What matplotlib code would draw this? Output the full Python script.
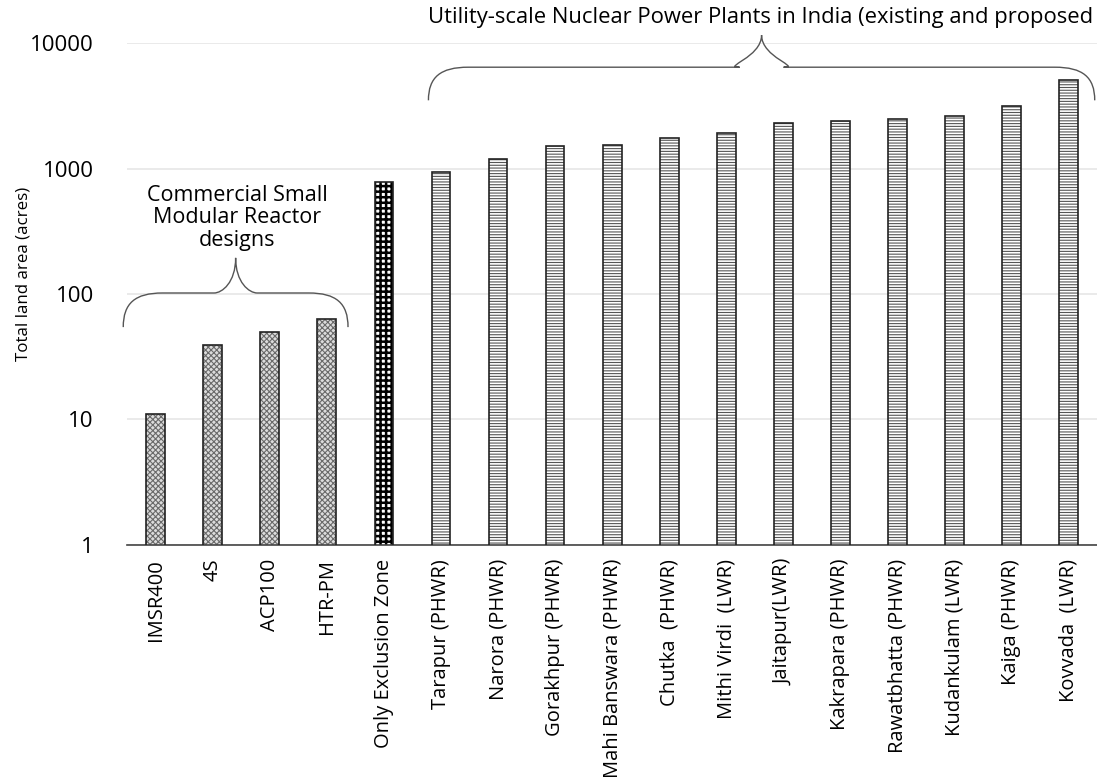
import numpy as np
import matplotlib
matplotlib.use("Agg")
import matplotlib.pyplot as plt
from matplotlib.path import Path
from matplotlib.patches import PathPatch
import matplotlib.transforms as mtransforms

plt.rcParams['font.family'] = ['Open Sans', 'DejaVu Sans']
plt.rcParams['hatch.linewidth'] = 0.8

# data
smr_names = ['IMSR400', '4S', 'ACP100', 'HTR-PM']
smr_area = [11, 39, 50, 63]
excl_name = ['Only Exclusion Zone']
excl_area = [780]
plant_names = ['Tarapur (PHWR)', 'Narora (PHWR)', 'Gorakhpur (PHWR)',
               'Mahi Banswara (PHWR)', 'Chutka  (PHWR)', 'Mithi Virdi  (LWR)',
               'Jaitapur(LWR)', 'Kakrapara (PHWR)', 'Rawatbhatta (PHWR)',
               'Kudankulam (LWR)', 'Kaiga (PHWR)', 'Kovvada  (LWR)']
plant_area = [940, 1190, 1510, 1540, 1750, 1920, 2300, 2380, 2470, 2620, 3150, 5100]

labels = smr_names + excl_name + plant_names
n = len(labels)
x = np.arange(n)
x_smr = x[:4]
x_ex = x[4:5]
x_pl = x[5:]

fig = plt.figure(figsize=(10.97, 7.84), dpi=100)
ax = fig.add_axes([0.116, 0.305, 0.884, 0.64])

w = 0.33
# hatch layers first, black outline drawn on top
ax.bar(x_smr, smr_area, w, color='#dcdcdc', edgecolor='#6a6a6a', hatch='xxxxxx', linewidth=0, zorder=2)
ax.bar(x_smr, smr_area, w, fill=False, edgecolor='#222222', linewidth=1.2, zorder=3)
ex_bars = ax.bar(x_ex, excl_area, w, color='white', edgecolor='black', hatch='+++', linewidth=0, zorder=2)
for b in ex_bars:
    if hasattr(b, 'set_hatch_linewidth'):
        b.set_hatch_linewidth(1.8)
ax.bar(x_ex, excl_area, w, fill=False, edgecolor='#222222', linewidth=1.2, zorder=3)
ax.bar(x_pl, plant_area, w, color='white', edgecolor='#555555', hatch='------', linewidth=0, zorder=2)
ax.bar(x_pl, plant_area, w, fill=False, edgecolor='#222222', linewidth=1.2, zorder=3)

ax.set_yscale('log')
ax.set_ylim(1, 10000)
ax.set_xlim(-0.5, n - 0.5)
ax.set_yticks([1, 10, 100, 1000, 10000])
ax.set_yticklabels(['1', '10', '100', '1000', '10000'], fontsize=16)
ax.minorticks_off()
ax.set_xticks(x)
ax.set_xticklabels(labels, rotation=90, fontsize=14.5)
ax.tick_params(axis='x', length=0, pad=10)
ax.tick_params(axis='y', length=0, pad=24)
ax.grid(axis='y', color='#e6e6e6', linewidth=1.2, zorder=0)
ax.set_axisbelow(True)
for s in ['top', 'right', 'left']:
    ax.spines[s].set_visible(False)
ax.spines['bottom'].set_color('#444444')
ax.spines['bottom'].set_linewidth(1.2)
ax.set_ylabel('Total land area (acres)', fontsize=12.2)
ax.yaxis.set_label_coords(-0.099, 0.54)

trans = mtransforms.blended_transform_factory(ax.transData, ax.transAxes)


def brace(x0, x1, yb, ym, yt, r=0.55):
    xc = (x0 + x1) / 2
    h = xc - x0
    verts = [
        (x0, yb),
        (x0, yb + (ym - yb) * 0.7), (x0 + h * r * 0.3, ym), (x0 + h * r, ym),
        (xc - h * r * 0.55, ym),
        (xc - h * 0.12, ym), (xc, ym + (yt - ym) * 0.3), (xc, yt),
        (xc, ym + (yt - ym) * 0.3), (xc + h * 0.12, ym), (xc + h * r * 0.55, ym),
        (x1 - h * r, ym),
        (x1 - h * r * 0.3, ym), (x1, yb + (ym - yb) * 0.7), (x1, yb),
    ]
    codes = [Path.MOVETO,
             Path.CURVE4, Path.CURVE4, Path.CURVE4,
             Path.LINETO,
             Path.CURVE4, Path.CURVE4, Path.CURVE4,
             Path.CURVE4, Path.CURVE4, Path.CURVE4,
             Path.LINETO,
             Path.CURVE4, Path.CURVE4, Path.CURVE4]
    p = PathPatch(Path(verts, codes), fill=False, edgecolor='#555555',
                  linewidth=1.0, transform=trans, clip_on=False)
    ax.add_patch(p)


brace(-0.57, 3.37, 0.434, 0.502, 0.572, r=0.35)
brace(4.78, 16.46, 0.886, 0.952, 1.016, r=0.12)

ax.text(1.43, 0.585, 'Commercial Small\nModular Reactor\ndesigns', transform=trans,
        ha='center', va='bottom', fontsize=15.5, linespacing=1.12)
fig.text(428 / 1097, 1 - 18 / 784, 'Utility-scale Nuclear Power Plants in India (existing and proposed',
         ha='left', va='center', fontsize=15.8)

fig.savefig('out.png', dpi=100)
